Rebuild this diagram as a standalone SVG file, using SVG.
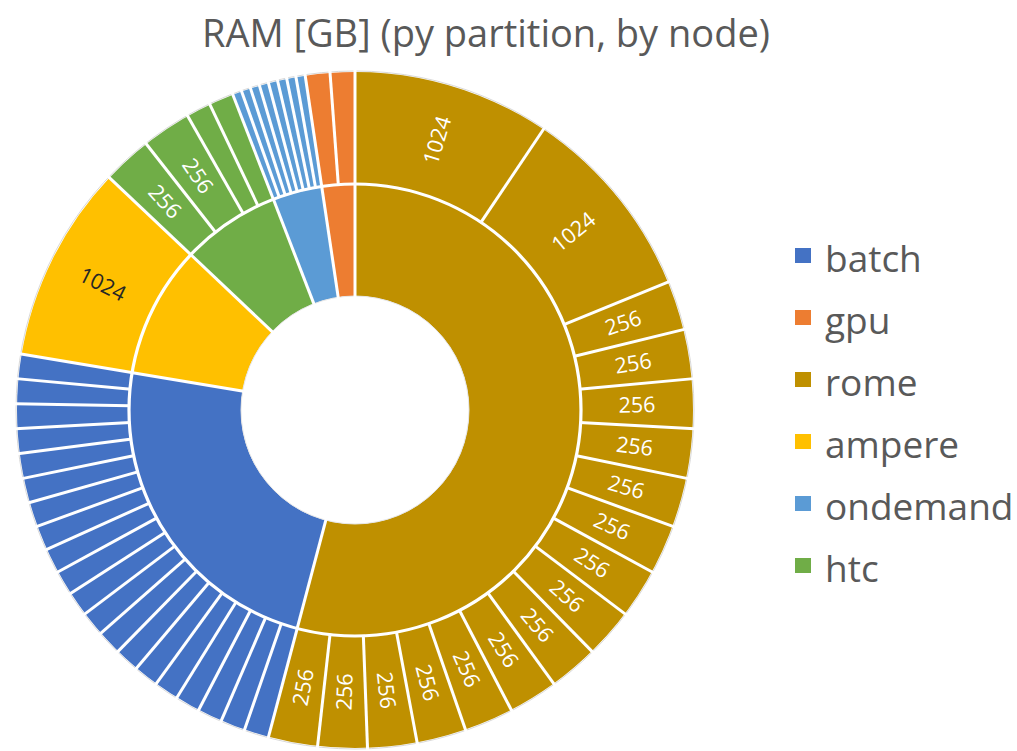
<svg xmlns="http://www.w3.org/2000/svg" width="1017" height="751" viewBox="0 0 1017 751">
<style>
.ring{fill:none;stroke-width:112}
.sep{stroke:#fff;stroke-width:3}
.lbl{font-family:"Open Sans","Liberation Sans",sans-serif;font-size:21.5px;fill:#fff;text-anchor:middle}
.dark{fill:#262626}
.leg{font-family:"Open Sans","Liberation Sans",sans-serif;font-size:37px;fill:#595959}
.title{font-family:"Open Sans","Liberation Sans",sans-serif;font-size:38px;fill:#595959;text-anchor:middle}
</style>
<rect width="1017" height="751" fill="#fff"/>
<text class="title" x="486" y="47">RAM [GB] (py partition, by node)</text>
<g transform="translate(355 410)">
<circle r="339" fill="none" stroke="#d9d9d9" stroke-width="1"/>
<g id="rome" transform="rotate(-90)">
<circle class="ring" r="170" stroke="#BF9000" pathLength="10880" stroke-dasharray="5888 10880"/>
<circle class="ring" r="282" stroke="#BF9000" pathLength="10880" stroke-dasharray="5888 10880"/>
</g>
<g id="batch" transform="rotate(-90)">
<circle class="ring" r="170" stroke="#4472C4" pathLength="10880" stroke-dasharray="0 5888 2560 10880"/>
<circle class="ring" r="282" stroke="#4472C4" pathLength="10880" stroke-dasharray="0 5888 2560 10880"/>
</g>
<g id="ampere" transform="rotate(-90)">
<circle class="ring" r="170" stroke="#FFC000" pathLength="10880" stroke-dasharray="0 8448 1024 10880"/>
<circle class="ring" r="282" stroke="#FFC000" pathLength="10880" stroke-dasharray="0 8448 1024 10880"/>
</g>
<g id="htc" transform="rotate(-90)">
<circle class="ring" r="170" stroke="#70AD47" pathLength="10880" stroke-dasharray="0 9472 768 10880"/>
<circle class="ring" r="282" stroke="#70AD47" pathLength="10880" stroke-dasharray="0 9472 768 10880"/>
</g>
<g id="ondemand" transform="rotate(-90)">
<circle class="ring" r="170" stroke="#5B9BD5" pathLength="10880" stroke-dasharray="0 10240 384 10880"/>
<circle class="ring" r="282" stroke="#5B9BD5" pathLength="10880" stroke-dasharray="0 10240 384 10880"/>
</g>
<g id="gpu" transform="rotate(-90)">
<circle class="ring" r="170" stroke="#ED7D31" pathLength="10880" stroke-dasharray="0 10624 256 10880"/>
<circle class="ring" r="282" stroke="#ED7D31" pathLength="10880" stroke-dasharray="0 10624 256 10880"/>
</g>
<g id="connectors">
<circle r="226" fill="none" stroke="#fff" stroke-width="3.2"/>
<circle r="114" fill="#fff" stroke="#e6e6e6" stroke-width="1"/>
<g class="sep">
<line y1="-113" y2="-227" transform="rotate(0)"/>
<line y1="-113" y2="-227" transform="rotate(194.824)"/>
<line y1="-113" y2="-227" transform="rotate(279.529)"/>
<line y1="-113" y2="-227" transform="rotate(313.412)"/>
<line y1="-113" y2="-227" transform="rotate(338.824)"/>
<line y1="-113" y2="-227" transform="rotate(351.529)"/>
</g>
<g class="sep">
<line y1="-225" y2="-340" transform="rotate(0)"/>
<line y1="-225" y2="-340" transform="rotate(33.882)"/>
<line y1="-225" y2="-340" transform="rotate(67.765)"/>
<line y1="-225" y2="-340" transform="rotate(76.235)"/>
<line y1="-225" y2="-340" transform="rotate(84.706)"/>
<line y1="-225" y2="-340" transform="rotate(93.176)"/>
<line y1="-225" y2="-340" transform="rotate(101.647)"/>
<line y1="-225" y2="-340" transform="rotate(110.118)"/>
<line y1="-225" y2="-340" transform="rotate(118.588)"/>
<line y1="-225" y2="-340" transform="rotate(127.059)"/>
<line y1="-225" y2="-340" transform="rotate(135.529)"/>
<line y1="-225" y2="-340" transform="rotate(144.0)"/>
<line y1="-225" y2="-340" transform="rotate(152.471)"/>
<line y1="-225" y2="-340" transform="rotate(160.941)"/>
<line y1="-225" y2="-340" transform="rotate(169.412)"/>
<line y1="-225" y2="-340" transform="rotate(177.882)"/>
<line y1="-225" y2="-340" transform="rotate(186.353)"/>
<line y1="-225" y2="-340" transform="rotate(194.824)"/>
<line y1="-225" y2="-340" transform="rotate(199.059)"/>
<line y1="-225" y2="-340" transform="rotate(203.294)"/>
<line y1="-225" y2="-340" transform="rotate(207.529)"/>
<line y1="-225" y2="-340" transform="rotate(211.765)"/>
<line y1="-225" y2="-340" transform="rotate(216.0)"/>
<line y1="-225" y2="-340" transform="rotate(220.235)"/>
<line y1="-225" y2="-340" transform="rotate(224.471)"/>
<line y1="-225" y2="-340" transform="rotate(228.706)"/>
<line y1="-225" y2="-340" transform="rotate(232.941)"/>
<line y1="-225" y2="-340" transform="rotate(237.176)"/>
<line y1="-225" y2="-340" transform="rotate(241.412)"/>
<line y1="-225" y2="-340" transform="rotate(245.647)"/>
<line y1="-225" y2="-340" transform="rotate(249.882)"/>
<line y1="-225" y2="-340" transform="rotate(254.118)"/>
<line y1="-225" y2="-340" transform="rotate(258.353)"/>
<line y1="-225" y2="-340" transform="rotate(262.588)"/>
<line y1="-225" y2="-340" transform="rotate(266.824)"/>
<line y1="-225" y2="-340" transform="rotate(271.059)"/>
<line y1="-225" y2="-340" transform="rotate(275.294)"/>
<line y1="-225" y2="-340" transform="rotate(279.529)"/>
<line y1="-225" y2="-340" transform="rotate(313.412)"/>
<line y1="-225" y2="-340" transform="rotate(321.882)"/>
<line y1="-225" y2="-340" transform="rotate(330.353)"/>
<line y1="-225" y2="-340" transform="rotate(334.588)"/>
<line y1="-225" y2="-340" transform="rotate(338.824)"/>
<line y1="-225" y2="-340" transform="rotate(340.412)"/>
<line y1="-225" y2="-340" transform="rotate(342.0)"/>
<line y1="-225" y2="-340" transform="rotate(343.588)"/>
<line y1="-225" y2="-340" transform="rotate(345.176)"/>
<line y1="-225" y2="-340" transform="rotate(346.765)"/>
<line y1="-225" y2="-340" transform="rotate(348.353)"/>
<line y1="-225" y2="-340" transform="rotate(349.941)"/>
<line y1="-225" y2="-340" transform="rotate(351.529)"/>
<line y1="-225" y2="-340" transform="rotate(355.765)"/>
</g>
</g>
<g id="labels">
<text class="lbl" dy="7.5" transform="rotate(16.941) translate(0 -282) rotate(-90)">1024</text>
<text class="lbl" dy="7.5" transform="rotate(50.824) translate(0 -282) rotate(-90)">1024</text>
<text class="lbl" dy="7.5" transform="rotate(72.0) translate(0 -282) rotate(-90)">256</text>
<text class="lbl" dy="7.5" transform="rotate(80.471) translate(0 -282) rotate(-90)">256</text>
<text class="lbl" dy="7.5" transform="rotate(88.941) translate(0 -282) rotate(-90)">256</text>
<text class="lbl" dy="7.5" transform="rotate(97.412) translate(0 -282) rotate(-90)">256</text>
<text class="lbl" dy="7.5" transform="rotate(105.882) translate(0 -282) rotate(-90)">256</text>
<text class="lbl" dy="7.5" transform="rotate(114.353) translate(0 -282) rotate(-90)">256</text>
<text class="lbl" dy="7.5" transform="rotate(122.824) translate(0 -282) rotate(-90)">256</text>
<text class="lbl" dy="7.5" transform="rotate(131.294) translate(0 -282) rotate(-90)">256</text>
<text class="lbl" dy="7.5" transform="rotate(139.765) translate(0 -282) rotate(-90)">256</text>
<text class="lbl" dy="7.5" transform="rotate(148.235) translate(0 -282) rotate(-90)">256</text>
<text class="lbl" dy="7.5" transform="rotate(156.706) translate(0 -282) rotate(-90)">256</text>
<text class="lbl" dy="7.5" transform="rotate(165.176) translate(0 -282) rotate(-90)">256</text>
<text class="lbl" dy="7.5" transform="rotate(173.647) translate(0 -282) rotate(-90)">256</text>
<text class="lbl" dy="7.5" transform="rotate(182.118) translate(0 -282) rotate(90)">256</text>
<text class="lbl" dy="7.5" transform="rotate(190.588) translate(0 -282) rotate(90)">256</text>
<text class="lbl dark" dy="7.5" transform="rotate(296.471) translate(0 -282) rotate(90)">1024</text>
<text class="lbl" dy="7.5" transform="rotate(317.647) translate(0 -282) rotate(90)">256</text>
<text class="lbl" dy="7.5" transform="rotate(326.118) translate(0 -282) rotate(90)">256</text>
</g>
</g>
<g id="legend">
<rect x="795" y="248" width="16" height="15" fill="#4472C4"/>
<text class="leg" x="825" y="272">batch</text>
<rect x="795" y="310" width="16" height="15" fill="#ED7D31"/>
<text class="leg" x="825" y="334">gpu</text>
<rect x="795" y="372" width="16" height="15" fill="#BF9000"/>
<text class="leg" x="825" y="396">rome</text>
<rect x="795" y="434" width="16" height="15" fill="#FFC000"/>
<text class="leg" x="825" y="458">ampere</text>
<rect x="795" y="496" width="16" height="15" fill="#5B9BD5"/>
<text class="leg" x="825" y="520">ondemand</text>
<rect x="795" y="558" width="16" height="15" fill="#70AD47"/>
<text class="leg" x="825" y="582">htc</text>
</g>
</svg>
